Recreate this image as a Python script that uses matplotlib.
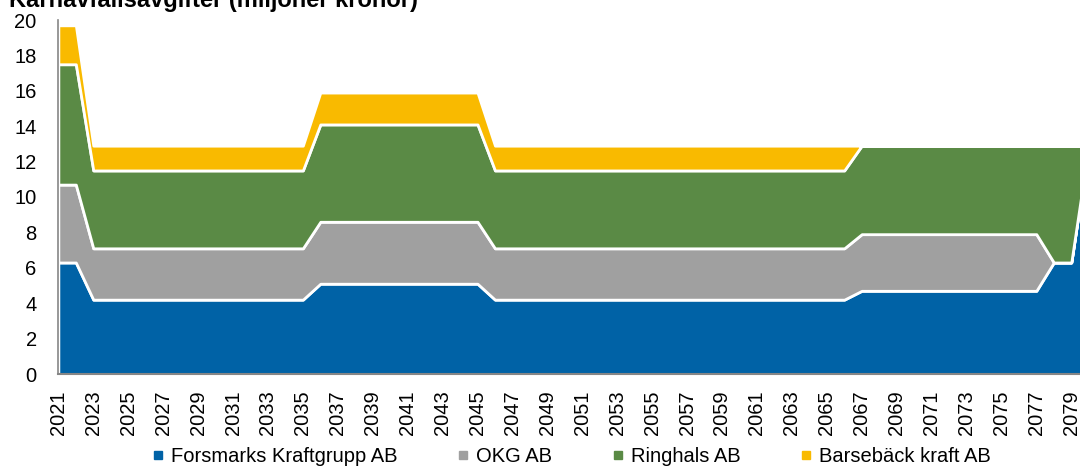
import matplotlib
matplotlib.use("Agg")
import matplotlib.pyplot as plt
from matplotlib.lines import Line2D
import numpy as np

plt.rcParams['font.family'] = ['Liberation Sans', 'DejaVu Sans']

years = list(range(2021, 2081))

forsmark = [6.3, 6.3,
            4.2, 4.2, 4.2, 4.2, 4.2, 4.2, 4.2, 4.2, 4.2, 4.2, 4.2, 4.2, 4.2,
            5.1, 5.1, 5.1, 5.1, 5.1, 5.1, 5.1, 5.1, 5.1, 5.1,
            4.2, 4.2, 4.2, 4.2, 4.2, 4.2, 4.2, 4.2, 4.2, 4.2, 4.2, 4.2, 4.2, 4.2, 4.2, 4.2, 4.2, 4.2, 4.2, 4.2, 4.2,
            4.7, 4.7, 4.7, 4.7, 4.7, 4.7, 4.7, 4.7, 4.7, 4.7, 4.7,
            6.3, 6.3, 12.9]
okg = [4.4, 4.4,
       2.9, 2.9, 2.9, 2.9, 2.9, 2.9, 2.9, 2.9, 2.9, 2.9, 2.9, 2.9, 2.9,
       3.5, 3.5, 3.5, 3.5, 3.5, 3.5, 3.5, 3.5, 3.5, 3.5,
       2.9, 2.9, 2.9, 2.9, 2.9, 2.9, 2.9, 2.9, 2.9, 2.9, 2.9, 2.9, 2.9, 2.9, 2.9, 2.9, 2.9, 2.9, 2.9, 2.9, 2.9,
       3.2, 3.2, 3.2, 3.2, 3.2, 3.2, 3.2, 3.2, 3.2, 3.2, 3.2,
       0.0, 0.0, 0.0]
ringhals = [6.8, 6.8,
            4.4, 4.4, 4.4, 4.4, 4.4, 4.4, 4.4, 4.4, 4.4, 4.4, 4.4, 4.4, 4.4,
            5.5, 5.5, 5.5, 5.5, 5.5, 5.5, 5.5, 5.5, 5.5, 5.5,
            4.4, 4.4, 4.4, 4.4, 4.4, 4.4, 4.4, 4.4, 4.4, 4.4, 4.4, 4.4, 4.4, 4.4, 4.4, 4.4, 4.4, 4.4, 4.4, 4.4, 4.4,
            5.0, 5.0, 5.0, 5.0, 5.0, 5.0, 5.0, 5.0, 5.0, 5.0, 5.0,
            6.6, 6.6, 0.0]
barseback = [2.2, 2.2,
             1.4, 1.4, 1.4, 1.4, 1.4, 1.4, 1.4, 1.4, 1.4, 1.4, 1.4, 1.4, 1.4,
             1.8, 1.8, 1.8, 1.8, 1.8, 1.8, 1.8, 1.8, 1.8, 1.8,
             1.4, 1.4, 1.4, 1.4, 1.4, 1.4, 1.4, 1.4, 1.4, 1.4, 1.4, 1.4, 1.4, 1.4, 1.4, 1.4, 1.4, 1.4, 1.4, 1.4, 1.4,
             0.0, 0.0, 0.0, 0.0, 0.0, 0.0, 0.0, 0.0, 0.0, 0.0, 0.0,
             0.0, 0.0, 0.0]

series_names = ["Forsmarks Kraftgrupp AB", "OKG AB", "Ringhals AB", "Barsebäck kraft AB"]
colors = ["#0062A6", "#A0A0A0", "#5A8A45", "#F9BA00"]
title = "Kärnavfallsavgifter (miljoner kronor)"
xtick_years = list(range(2021, 2080, 2))
yticks = list(range(0, 21, 2))

W, H = 1080, 468
fig = plt.figure(figsize=(W / 100, H / 100), dpi=100)
ax = fig.add_axes([57.5 / W, 1 - 374 / H, 1 - 57.5 / W, (374 - 20) / H])

x = np.array(years)
data = [np.array(forsmark), np.array(okg), np.array(ringhals), np.array(barseback)]
bottom = np.zeros(len(x))
for vals, col in zip(data, colors):
    top = bottom + vals
    ax.fill_between(x, bottom, top, facecolor=col, edgecolor="white", linewidth=2.0, zorder=2)
    bottom = top

ax.set_xlim(2021 - 0.05, 2079.5)
ax.set_ylim(0, 20)
ax.set_xticks(xtick_years)
ax.set_xticklabels([str(y) for y in xtick_years], rotation=90, fontsize=14.5)
ax.set_yticks(yticks)
ax.set_yticklabels([str(v) for v in yticks], fontsize=14.5)
ax.tick_params(axis='both', length=0)
ax.tick_params(axis='y', pad=15)
ax.tick_params(axis='x', pad=12)
for s in ["top", "right"]:
    ax.spines[s].set_visible(False)
ax.spines["left"].set_color("#868686")
ax.spines["bottom"].set_color("#868686")
ax.spines["left"].set_linewidth(1.2)
ax.spines["bottom"].set_linewidth(1.5)
ax.spines["left"].set_zorder(5)
ax.spines["bottom"].set_zorder(5)

handles = [Line2D([0], [0], marker='s', linestyle='none', markersize=5.5,
                  markerfacecolor=c, markeredgecolor=c) for c in colors]
fig.legend(handles, series_names, loc='center', ncol=4, frameon=False,
           bbox_to_anchor=(572 / W, 1 - 457 / H), fontsize=14.5,
           handlelength=0.5, handletextpad=0.4, columnspacing=3.0,
           borderaxespad=0, borderpad=0)

fig.text(9 / W, 1 - 7 / H, title, fontsize=17, fontweight='bold', va='baseline', ha='left')

fig.savefig("out.png", dpi=100)
